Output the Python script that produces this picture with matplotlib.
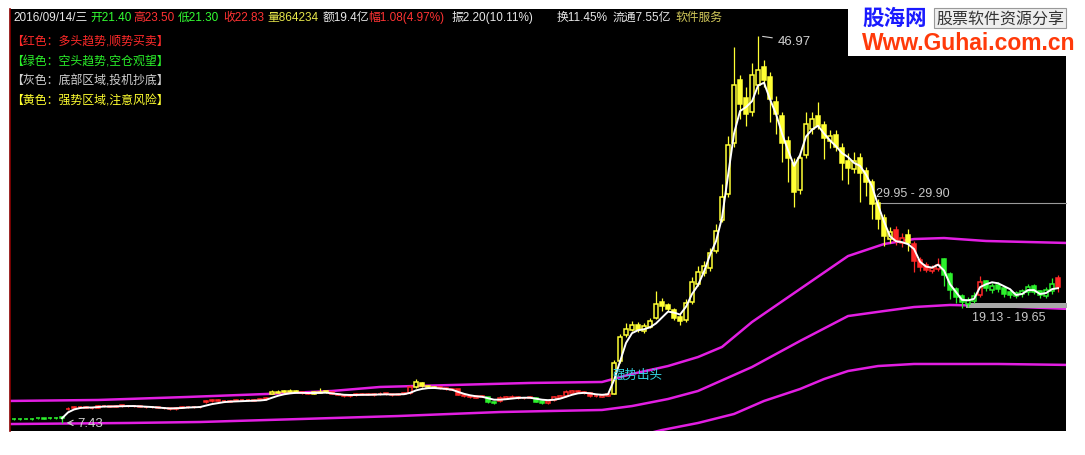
import numpy as np
import matplotlib.pyplot as plt
from matplotlib.patches import Rectangle

plt.rcParams['font.family'] = ['Liberation Sans', 'Noto Sans CJK SC']

W, H = 1085, 456

# ---------------- data (one bar per trading period) ----------------
opens = [
    7.84, 7.82, 7.87, 7.86, 7.92, 7.90, 7.94, 7.97, 8.02, 8.80,
    8.90, 9.02, 9.08, 9.00, 9.00, 9.12, 9.16, 9.08, 9.14, 9.20,
    9.14, 9.16, 9.10, 9.02, 9.06, 8.98, 8.90, 8.82, 8.95, 9.02,
    9.08, 9.02, 9.55, 9.62, 9.74, 9.70, 9.60, 9.66, 9.74, 9.80,
    9.70, 9.78, 9.82, 10.40, 10.52, 10.64, 10.56, 10.66, 10.58, 10.46,
    10.40, 10.52, 10.64, 10.56, 10.42, 10.32, 10.18, 10.28, 10.33, 10.42,
    10.28, 10.36, 10.44, 10.36, 10.28, 10.38, 10.50, 11.10, 11.55, 11.18,
    11.02, 11.10, 10.98, 10.82, 10.85, 10.32, 10.18, 10.02, 10.22, 10.05,
    9.50, 9.62, 9.92, 10.02, 10.12, 9.96, 9.98, 10.00, 9.65, 9.45,
    9.72, 10.02, 10.18, 10.50, 10.68, 10.62, 10.52, 10.22, 10.12, 10.22,
    10.40, 13.80, 16.40, 16.95, 17.45, 16.85, 17.20, 18.20, 19.80, 19.50,
    19.00, 18.30, 17.90, 19.80, 21.60, 22.70, 23.30, 25.00, 28.20, 30.80,
    36.00, 42.50, 40.60, 39.20, 42.00, 43.80, 42.80, 40.20, 38.80, 36.20,
    34.00, 31.20, 34.80, 37.50, 38.80, 37.90, 36.20, 36.90, 35.50, 34.20,
    33.40, 34.50, 33.20, 32.00, 29.90, 28.40, 26.20, 27.10, 25.80, 26.60,
    25.70, 24.10, 23.60, 23.00, 23.20, 24.20, 22.60, 21.10, 20.40, 19.60,
    19.90, 20.50, 21.90, 21.00, 21.50, 21.20, 20.80, 20.40, 20.60, 20.80,
    21.40, 20.90, 20.40, 20.90, 22.20,
]
closes = [
    7.80, 7.78, 7.84, 7.82, 7.88, 7.86, 7.90, 7.92, 7.95, 8.85,
    9.05, 9.10, 9.00, 8.95, 9.15, 9.20, 9.10, 9.18, 9.22, 9.15,
    9.20, 9.10, 9.05, 9.08, 9.00, 8.92, 8.80, 8.95, 9.05, 9.10,
    9.05, 9.10, 9.65, 9.75, 9.70, 9.62, 9.68, 9.75, 9.80, 9.72,
    9.78, 9.85, 10.00, 10.55, 10.62, 10.58, 10.65, 10.60, 10.45, 10.40,
    10.55, 10.62, 10.58, 10.40, 10.32, 10.20, 10.30, 10.35, 10.40, 10.30,
    10.38, 10.42, 10.35, 10.30, 10.40, 10.50, 11.05, 11.60, 11.15, 11.05,
    11.10, 10.95, 10.85, 10.90, 10.30, 10.15, 10.05, 10.20, 10.10, 9.55,
    9.60, 9.95, 10.05, 10.10, 9.98, 10.02, 10.05, 9.60, 9.50, 9.70,
    10.05, 10.15, 10.55, 10.65, 10.60, 10.50, 10.20, 10.15, 10.25, 10.35,
    13.60, 16.20, 17.00, 17.40, 16.90, 17.30, 17.80, 19.60, 19.40, 19.10,
    18.20, 17.80, 19.70, 21.80, 22.80, 23.50, 24.80, 27.00, 30.50, 35.80,
    42.00, 40.00, 39.00, 43.00, 43.50, 42.50, 40.50, 39.00, 36.00, 34.50,
    31.00, 34.50, 38.00, 38.50, 37.80, 36.50, 36.80, 35.60, 34.00, 33.50,
    34.20, 33.00, 32.00, 29.80, 28.30, 26.50, 26.90, 26.00, 26.30, 25.80,
    24.00, 23.40, 23.10, 23.30, 23.60, 22.50, 21.00, 20.30, 19.80, 20.00,
    20.40, 21.80, 21.20, 21.40, 21.10, 20.60, 20.50, 20.70, 20.90, 21.30,
    20.80, 20.50, 21.00, 21.60, 21.30,
]
highs = [
    7.90, 7.88, 7.92, 7.91, 7.96, 7.94, 7.98, 8.01, 8.10, 9.05,
    9.15, 9.18, 9.14, 9.08, 9.22, 9.28, 9.20, 9.25, 9.30, 9.25,
    9.28, 9.22, 9.12, 9.15, 9.10, 9.02, 8.98, 9.05, 9.12, 9.18,
    9.15, 9.18, 9.75, 9.85, 9.82, 9.78, 9.76, 9.84, 9.90, 9.86,
    9.88, 9.94, 10.10, 10.80, 10.75, 10.78, 10.85, 10.74, 10.66, 10.55,
    10.70, 10.95, 10.72, 10.62, 10.50, 10.40, 10.40, 10.45, 10.52, 10.50,
    10.45, 10.56, 10.52, 10.42, 10.50, 10.62, 11.30, 11.95, 11.62, 11.28,
    11.20, 11.18, 11.05, 11.00, 10.92, 10.40, 10.25, 10.30, 10.32, 10.10,
    9.70, 10.20, 10.15, 10.30, 10.18, 10.10, 10.15, 10.05, 9.72, 9.80,
    10.18, 10.25, 10.75, 10.78, 10.80, 10.70, 10.58, 10.30, 10.32, 10.45,
    13.90, 16.50, 17.60, 17.80, 17.70, 17.60, 18.10, 20.90, 20.20, 19.70,
    19.20, 18.60, 20.10, 22.30, 23.50, 24.00, 25.30, 27.80, 31.80, 36.80,
    45.80, 43.00, 41.80, 44.20, 46.97, 44.50, 43.30, 40.80, 39.20, 36.80,
    34.50, 35.00, 39.20, 39.20, 40.20, 38.30, 37.40, 37.40, 36.00, 35.00,
    35.10, 35.00, 33.60, 32.40, 30.30, 28.80, 27.40, 27.60, 26.80, 27.20,
    26.00, 24.40, 23.90, 23.60, 24.30, 24.30, 22.80, 21.30, 20.60, 20.30,
    20.80, 22.40, 22.00, 21.70, 21.80, 21.40, 21.00, 20.90, 21.10, 21.60,
    21.60, 21.00, 21.30, 22.20, 22.50,
]
lows = [
    7.74, 7.72, 7.78, 7.76, 7.82, 7.80, 7.84, 7.86, 7.43, 8.75,
    8.85, 8.98, 8.94, 8.88, 8.92, 9.06, 9.02, 9.02, 9.08, 9.08,
    9.08, 9.04, 8.98, 8.96, 8.92, 8.85, 8.72, 8.76, 8.90, 8.98,
    8.98, 8.96, 9.50, 9.58, 9.64, 9.56, 9.56, 9.62, 9.70, 9.66,
    9.66, 9.74, 9.78, 10.35, 10.48, 10.52, 10.50, 10.54, 10.36, 10.34,
    10.36, 10.48, 10.52, 10.34, 10.26, 10.12, 10.12, 10.22, 10.28, 10.24,
    10.22, 10.30, 10.30, 10.22, 10.24, 10.34, 10.42, 11.02, 11.08, 10.98,
    10.96, 10.88, 10.78, 10.76, 10.24, 10.08, 9.98, 9.96, 10.04, 9.45,
    9.40, 9.55, 9.86, 9.96, 9.92, 9.90, 9.94, 9.52, 9.38, 9.40,
    9.66, 9.96, 10.12, 10.44, 10.54, 10.42, 10.12, 10.08, 10.06, 10.16,
    10.35, 13.60, 16.20, 16.80, 16.70, 16.60, 17.10, 18.00, 18.90, 18.90,
    17.90, 17.40, 17.70, 19.60, 21.40, 22.40, 23.00, 24.80, 28.00, 30.50,
    35.60, 38.50, 37.80, 38.80, 41.00, 41.80, 38.20, 37.00, 34.10, 32.00,
    29.50, 30.80, 34.50, 37.00, 37.50, 34.40, 35.50, 35.20, 32.30, 31.80,
    33.00, 30.00, 30.60, 28.30, 27.20, 25.50, 25.80, 25.60, 25.40, 25.00,
    22.90, 23.00, 22.80, 22.70, 23.00, 21.40, 20.10, 19.70, 19.13, 19.30,
    19.70, 20.30, 20.90, 20.70, 20.80, 20.30, 20.20, 20.20, 20.30, 20.50,
    20.60, 20.20, 20.20, 20.60, 20.80,
]
# colour regime of each bar: r=多头, g=空头, y=强势
regime_runs = [('g', 9), ('r', 34), ('y', 5), ('r', 2), ('y', 3), ('r', 14),
               ('y', 4), ('r', 8), ('g', 2), ('r', 6), ('g', 2), ('r', 11),
               ('y', 47), ('r', 2), ('y', 1), ('r', 5), ('g', 6), ('r', 1),
               ('g', 12), ('r', 1)]

# white trend line, starts at bar 8
white_start = 8
white = [
    7.90, 8.50,
    8.80, 8.95, 9.00, 9.00, 9.05, 9.10, 9.10, 9.12, 9.15, 9.15,
    9.15, 9.12, 9.10, 9.05, 9.00, 8.95, 8.90, 8.92, 8.95, 9.00,
    9.02, 9.05, 9.20, 9.35, 9.45, 9.55, 9.60, 9.62, 9.65, 9.68,
    9.70, 9.72, 9.78, 10.00, 10.20, 10.35, 10.45, 10.50, 10.50, 10.48,
    10.48, 10.50, 10.52, 10.45, 10.38, 10.30, 10.28, 10.28, 10.30, 10.30,
    10.32, 10.35, 10.35, 10.33, 10.34, 10.36, 10.50, 10.75, 10.90, 10.98,
    11.00, 10.95, 10.90, 10.82, 10.60, 10.40, 10.25, 10.15, 10.10, 9.95,
    9.80, 9.80, 9.85, 9.92, 9.98, 10.00, 10.00, 9.90, 9.80, 9.75,
    9.80, 9.90, 10.10, 10.30, 10.45, 10.50, 10.45, 10.35, 10.30, 10.35,
    11.80, 13.70, 15.60, 16.60, 16.90, 17.00, 17.20, 17.60, 18.20, 18.80,
    18.70, 18.50, 19.30, 20.60, 21.50, 22.90, 24.60, 26.00, 28.40, 32.70,
    37.00, 39.30, 39.70, 40.30, 41.90, 42.20, 40.50, 39.00, 37.00, 35.30,
    33.70, 34.80, 36.70, 37.40, 37.80, 37.00, 36.30, 35.70, 35.00, 34.60,
    34.00, 33.70, 32.80, 31.60, 29.70, 28.00, 26.50, 26.00, 25.90, 25.70,
    25.20, 23.90, 23.40, 23.30, 23.60, 23.00, 21.60, 20.80, 20.00, 19.95,
    20.10, 21.30, 21.60, 21.80, 21.70, 21.40, 21.10, 20.50, 20.60, 21.00,
    21.00, 20.60, 20.70, 21.10, 21.20,
]

# magenta channel lines (bar index, price)
upper_x = [-1, 14, 29, 42, 53, 61, 73, 86, 98, 103, 109, 114, 118, 123, 131, 139, 145, 150, 155, 162, 176]
upper_y = [9.67, 9.77, 10.08, 10.38, 10.69, 11.10, 11.30, 11.51, 11.61, 12.43, 13.24, 14.16, 15.19,
           17.74, 21.11, 24.48, 25.71, 26.22, 26.32, 26.02, 25.81]
middle_x = [-1, 19, 31, 48, 64, 81, 98, 103, 109, 114, 123, 131, 139, 145, 150, 156, 164, 176]
middle_y = [7.31, 7.42, 7.52, 7.83, 8.13, 8.54, 8.75, 9.15, 9.87, 10.69, 13.14, 15.80, 18.35, 18.86,
            19.27, 19.48, 19.37, 19.07]
lower_x = [104, 108, 114, 120, 125, 131, 135, 139, 144, 150, 164, 176]
lower_y = [6.10, 6.70, 7.42, 8.34, 9.67, 10.89, 11.91, 12.73, 13.24, 13.45, 13.45, 13.35]

high_mark, low_mark = 46.97, 7.43
high_bar, low_bar = 124, 8
band1 = (29.90, 29.95, 142.5)   # lo, hi, start bar
band2 = (19.13, 19.65, 158.7)

header = [
    (13, '2016/09/14/三', '#e8e8e8'), (90, '开21.40', '#33ff33'),
    (133, '高23.50', '#ff3333'), (178, '低21.30', '#33ff33'),
    (223, '收22.83', '#ff3333'), (267, '量864234', '#e6e64a'),
    (323, '额19.4亿', '#e8e8e8'), (368, '幅1.08(4.97%)', '#ff3333'),
    (452, '振2.20(10.11%)', '#e8e8e8'), (557, '换11.45%', '#e8e8e8'),
    (613, '流通7.55亿', '#e8e8e8'), (675, '软件服务', '#d2c85a'),
]
legend_lines = [
    ('【红色：多头趋势,顺势买卖】', '#ff2a2a'),
    ('【绿色：空头趋势,空仓观望】', '#2af02a'),
    ('【灰色：底部区域,投机抄底】', '#d0d0d0'),
    ('【黄色：强势区域,注意风险】', '#ffff30'),
]

# ---------------- figure ----------------
fig = plt.figure(figsize=(W / 100, H / 100), dpi=100)
fig.patch.set_facecolor('white')


def fpos(x, y):
    return x / W, 1 - y / H


ax = fig.add_axes([10 / W, (H - 432) / H, (1066 - 10) / W, (432 - 10) / H])
ax.set_facecolor('black')
ax.set_xlim(-0.67, 175.33)
ax.set_ylim(6.60, 49.73)
ax.set_xticks([])
ax.set_yticks([])
for s in ['top', 'right', 'bottom']:
    ax.spines[s].set_visible(False)
ax.spines['left'].set_color('#8b0000')
ax.spines['left'].set_linewidth(1.2)

palette = {'r': '#ff2828', 'g': '#2cf02c', 'y': '#ffff33'}
regime = ''.join(c * n for c, n in regime_runs)
cols = [palette[c] for c in regime]
x = np.arange(len(closes))
o = np.array(opens)
c = np.array(closes)

# channel lines
ax.plot(upper_x, upper_y, color='#e21ee2', lw=1.8, zorder=2)
ax.plot(middle_x, middle_y, color='#e21ee2', lw=1.8, zorder=2)
ax.plot(lower_x, lower_y, color='#e21ee2', lw=1.8, zorder=2)

# price bands
ax.fill_between([band1[2], 176], band1[0], band1[1], color='#9a9a9a', lw=0.8, zorder=2)
ax.text(band1[2] + 1.2, band1[1] + 0.35, '29.95 - 29.90', color='#c8c8c8',
        fontsize=9, va='bottom', ha='left')
ax.fill_between([band2[2], 176], band2[0], band2[1], color='#a8a8a8', lw=0, zorder=2)
ax.text(band2[2] + 1.0, band2[0] - 0.3, '19.13 - 19.65', color='#c8c8c8',
        fontsize=9, va='top', ha='left')

# candles
ax.vlines(x, lows, highs, colors=cols, lw=0.9, zorder=3)
up = c >= o
faces = ['black' if u else col for u, col in zip(up, cols)]
ax.bar(x, np.abs(c - o), bottom=np.minimum(o, c), width=0.7,
       color=faces, edgecolor=cols, linewidth=1.1, zorder=4)

# white trend line
ax.plot(np.arange(white_start, white_start + len(white)), white,
        color='white', lw=1.4, zorder=5)

# markers
ax.annotate('46.97', xy=(high_bar + 0.3, high_mark), xytext=(18, -5),
            textcoords='offset pixels', color='#d0d0d0', fontsize=9.5,
            va='center', ha='left',
            arrowprops=dict(arrowstyle='-', color='#d0d0d0', lw=0.8))
ax.annotate('7.43', xy=(low_bar + 0.3, low_mark), xytext=(13, 0),
            textcoords='offset pixels', color='#d0d0d0', fontsize=9.5,
            va='center', ha='left',
            arrowprops=dict(arrowstyle='->', color='#d0d0d0', lw=0.8))
ax.text(99.7, 12.4, '强势出头', color='#35d6e6', fontsize=9, va='center',
        ha='left', zorder=6)

# header and legend texts
for xp, txt, col in header:
    fig.text(*fpos(xp, 18), txt, color=col, fontsize=8.5, va='center', ha='left')
for k, (txt, col) in enumerate(legend_lines):
    fig.text(*fpos(11, 42 + 19.7 * k), txt, color=col, fontsize=8.6,
             va='center', ha='left')

# site logo box (top right)
fig.patches.append(Rectangle(fpos(848, 57), (W - 848) / W, 57 / H,
                             transform=fig.transFigure, facecolor='white',
                             edgecolor='none', zorder=10))
fig.text(*fpos(862, 19), '股海网', color='#1a1aff', fontsize=15.5,
         fontweight='bold', va='center', ha='left', zorder=11)
fig.text(*fpos(936, 19), '股票软件资源分享', color='#333333', fontsize=11.5,
         va='center', ha='left', zorder=11,
         bbox=dict(facecolor='#eeeeee', edgecolor='#999999', pad=1.5, lw=0.8))
fig.text(*fpos(862, 44), 'Www.Guhai.com.cn', color='#ff3a0a', fontsize=16.5,
         fontweight='bold', va='center', ha='left', zorder=11)

fig.savefig('out.png', dpi=100, facecolor='white')
